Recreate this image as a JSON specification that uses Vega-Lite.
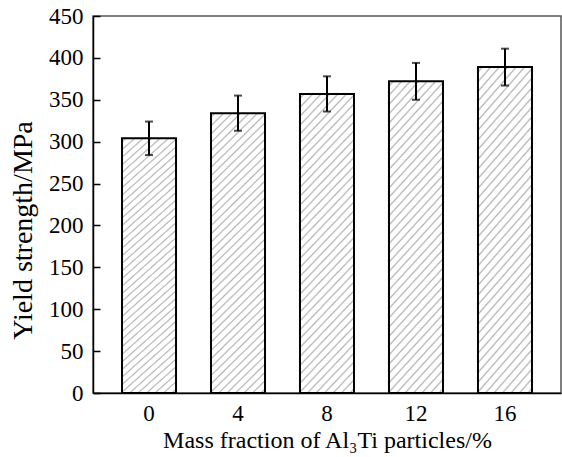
{
  "$schema": "https://vega.github.io/schema/vega-lite/v6.json",
  "autosize": {"type": "none"},
  "padding": {"left": 93, "top": 16, "right": 1, "bottom": 64},
  "width": 468,
  "height": 377,
  "background": "white",
  "config": {
    "view": {"stroke": "#555", "strokeWidth": 1.5},
    "font": "Liberation Serif",
    "axis": {
      "labelFont": "Liberation Serif",
      "titleFont": "Liberation Serif",
      "labelColor": "black",
      "titleColor": "black",
      "domainColor": "black",
      "tickColor": "black",
      "domainWidth": 1.5,
      "tickWidth": 1.5,
      "grid": false,
      "titleFontWeight": "normal"
    }
  },
  "resolve": {"axis": {"y": "independent"}},
  "data": {
    "values": [
      {"frac": "0", "ys": 304, "lo": 284, "hi": 324},
      {"frac": "4", "ys": 334, "lo": 313, "hi": 355},
      {"frac": "8", "ys": 357, "lo": 336, "hi": 378},
      {"frac": "12", "ys": 372, "lo": 350, "hi": 394},
      {"frac": "16", "ys": 389, "lo": 367, "hi": 411}
    ]
  },
  "encoding": {
    "x": {
      "field": "frac",
      "type": "ordinal",
      "sort": ["0", "4", "8", "12", "16"],
      "scale": {"paddingInner": 0.393, "paddingOuter": 0.326},
      "axis": {
        "title": "Mass fraction of Al₃Ti particles/%",
        "labelAngle": 0,
        "labelFont": "Liberation Serif",
        "titleFont": "Liberation Serif",
        "labelFontSize": 23,
        "titleFontSize": 24,
        "ticks": false,
        "labelPadding": 9,
        "titlePadding": 3
      }
    }
  },
  "layer": [
    {
      "mark": {
        "type": "bar",
        "stroke": "black",
        "strokeWidth": 2,
        "fill": {
          "gradient": "linear",
          "x1": 0, "y1": 0, "x2": 0.218, "y2": 1.149,
          "stops": [
            {"offset":0.0075,"color":"#fff"},{"offset":0.0125,"color":"#b4b4b4"},{"offset":0.0175,"color":"#fff"},
            {"offset":0.0325,"color":"#fff"},{"offset":0.0375,"color":"#b4b4b4"},{"offset":0.0425,"color":"#fff"},
            {"offset":0.0575,"color":"#fff"},{"offset":0.0625,"color":"#b4b4b4"},{"offset":0.0675,"color":"#fff"},
            {"offset":0.0825,"color":"#fff"},{"offset":0.0875,"color":"#b4b4b4"},{"offset":0.0925,"color":"#fff"},
            {"offset":0.1075,"color":"#fff"},{"offset":0.1125,"color":"#b4b4b4"},{"offset":0.1175,"color":"#fff"},
            {"offset":0.1325,"color":"#fff"},{"offset":0.1375,"color":"#b4b4b4"},{"offset":0.1425,"color":"#fff"},
            {"offset":0.1575,"color":"#fff"},{"offset":0.1625,"color":"#b4b4b4"},{"offset":0.1675,"color":"#fff"},
            {"offset":0.1825,"color":"#fff"},{"offset":0.1875,"color":"#b4b4b4"},{"offset":0.1925,"color":"#fff"},
            {"offset":0.2075,"color":"#fff"},{"offset":0.2125,"color":"#b4b4b4"},{"offset":0.2175,"color":"#fff"},
            {"offset":0.2325,"color":"#fff"},{"offset":0.2375,"color":"#b4b4b4"},{"offset":0.2425,"color":"#fff"},
            {"offset":0.2575,"color":"#fff"},{"offset":0.2625,"color":"#b4b4b4"},{"offset":0.2675,"color":"#fff"},
            {"offset":0.2825,"color":"#fff"},{"offset":0.2875,"color":"#b4b4b4"},{"offset":0.2925,"color":"#fff"},
            {"offset":0.3075,"color":"#fff"},{"offset":0.3125,"color":"#b4b4b4"},{"offset":0.3175,"color":"#fff"},
            {"offset":0.3325,"color":"#fff"},{"offset":0.3375,"color":"#b4b4b4"},{"offset":0.3425,"color":"#fff"},
            {"offset":0.3575,"color":"#fff"},{"offset":0.3625,"color":"#b4b4b4"},{"offset":0.3675,"color":"#fff"},
            {"offset":0.3825,"color":"#fff"},{"offset":0.3875,"color":"#b4b4b4"},{"offset":0.3925,"color":"#fff"},
            {"offset":0.4075,"color":"#fff"},{"offset":0.4125,"color":"#b4b4b4"},{"offset":0.4175,"color":"#fff"},
            {"offset":0.4325,"color":"#fff"},{"offset":0.4375,"color":"#b4b4b4"},{"offset":0.4425,"color":"#fff"},
            {"offset":0.4575,"color":"#fff"},{"offset":0.4625,"color":"#b4b4b4"},{"offset":0.4675,"color":"#fff"},
            {"offset":0.4825,"color":"#fff"},{"offset":0.4875,"color":"#b4b4b4"},{"offset":0.4925,"color":"#fff"},
            {"offset":0.5075,"color":"#fff"},{"offset":0.5125,"color":"#b4b4b4"},{"offset":0.5175,"color":"#fff"},
            {"offset":0.5325,"color":"#fff"},{"offset":0.5375,"color":"#b4b4b4"},{"offset":0.5425,"color":"#fff"},
            {"offset":0.5575,"color":"#fff"},{"offset":0.5625,"color":"#b4b4b4"},{"offset":0.5675,"color":"#fff"},
            {"offset":0.5825,"color":"#fff"},{"offset":0.5875,"color":"#b4b4b4"},{"offset":0.5925,"color":"#fff"},
            {"offset":0.6075,"color":"#fff"},{"offset":0.6125,"color":"#b4b4b4"},{"offset":0.6175,"color":"#fff"},
            {"offset":0.6325,"color":"#fff"},{"offset":0.6375,"color":"#b4b4b4"},{"offset":0.6425,"color":"#fff"},
            {"offset":0.6575,"color":"#fff"},{"offset":0.6625,"color":"#b4b4b4"},{"offset":0.6675,"color":"#fff"},
            {"offset":0.6825,"color":"#fff"},{"offset":0.6875,"color":"#b4b4b4"},{"offset":0.6925,"color":"#fff"},
            {"offset":0.7075,"color":"#fff"},{"offset":0.7125,"color":"#b4b4b4"},{"offset":0.7175,"color":"#fff"},
            {"offset":0.7325,"color":"#fff"},{"offset":0.7375,"color":"#b4b4b4"},{"offset":0.7425,"color":"#fff"},
            {"offset":0.7575,"color":"#fff"},{"offset":0.7625,"color":"#b4b4b4"},{"offset":0.7675,"color":"#fff"},
            {"offset":0.7825,"color":"#fff"},{"offset":0.7875,"color":"#b4b4b4"},{"offset":0.7925,"color":"#fff"},
            {"offset":0.8075,"color":"#fff"},{"offset":0.8125,"color":"#b4b4b4"},{"offset":0.8175,"color":"#fff"},
            {"offset":0.8325,"color":"#fff"},{"offset":0.8375,"color":"#b4b4b4"},{"offset":0.8425,"color":"#fff"},
            {"offset":0.8575,"color":"#fff"},{"offset":0.8625,"color":"#b4b4b4"},{"offset":0.8675,"color":"#fff"},
            {"offset":0.8825,"color":"#fff"},{"offset":0.8875,"color":"#b4b4b4"},{"offset":0.8925,"color":"#fff"},
            {"offset":0.9075,"color":"#fff"},{"offset":0.9125,"color":"#b4b4b4"},{"offset":0.9175,"color":"#fff"},
            {"offset":0.9325,"color":"#fff"},{"offset":0.9375,"color":"#b4b4b4"},{"offset":0.9425,"color":"#fff"},
            {"offset":0.9575,"color":"#fff"},{"offset":0.9625,"color":"#b4b4b4"},{"offset":0.9675,"color":"#fff"},
            {"offset":0.9825,"color":"#fff"},{"offset":0.9875,"color":"#b4b4b4"},{"offset":0.9925,"color":"#fff"}
          ]
        }
      },
      "encoding": {
        "y": {
          "field": "ys",
          "type": "quantitative",
          "scale": {"domain": [0, 450], "nice": false},
          "axis": {
            "title": "Yield strength/MPa",
            "values": [0, 50, 100, 150, 200, 250, 300, 350, 400, 450],
            "labelFont": "Liberation Serif",
            "titleFont": "Liberation Serif",
            "labelFontSize": 23,
            "titleFontSize": 28,
            "titleY": 214,
            "ticks": false,
            "labelPadding": 10,
            "titlePadding": 11
          }
        }
      }
    },
    {
      "mark": {"type": "rule", "color": "black", "strokeWidth": 2},
      "encoding": {
        "y": {
          "field": "lo",
          "type": "quantitative",
          "axis": {
            "orient": "left",
            "offset": -7,
            "values": [0, 50, 100, 150, 200, 250, 300, 350, 400, 450],
            "tickSize": 7,
            "domain": false,
            "labels": false,
            "title": null
          }
        },
        "y2": {"field": "hi"}
      }
    },
    {
      "mark": {"type": "tick", "color": "black", "thickness": 2, "size": 8},
      "encoding": {"y": {"field": "lo", "type": "quantitative", "axis": null}}
    },
    {
      "mark": {"type": "tick", "color": "black", "thickness": 2, "size": 8},
      "encoding": {"y": {"field": "hi", "type": "quantitative", "axis": null}}
    }
  ]
}
